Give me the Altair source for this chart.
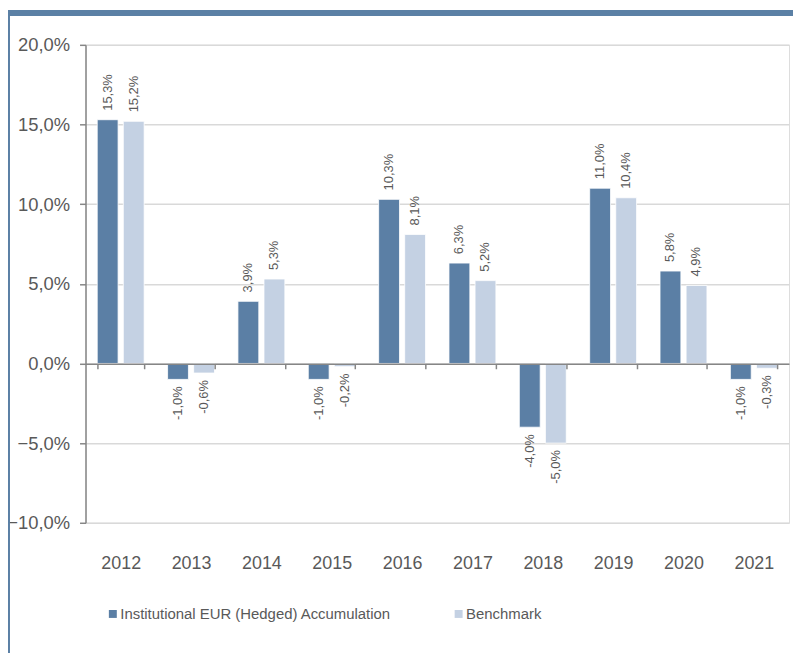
import altair as alt
import pandas as pd

years = ["2012", "2013", "2014", "2015", "2016", "2017", "2018", "2019", "2020", "2021"]
fund = [15.3, -1.0, 3.9, -1.0, 10.3, 6.3, -4.0, 11.0, 5.8, -1.0]
bench = [15.2, -0.6, 5.3, -0.2, 8.1, 5.2, -5.0, 10.4, 4.9, -0.3]
series_names = ["Institutional EUR (Hedged) Accumulation", "Benchmark"]
colors = ["#5b7fa5", "#c4d1e3"]
y_ticks = [-10, -5, 0, 5, 10, 15, 20]

rows = []
for i, yr in enumerate(years):
    rows.append({"year": yr, "series": series_names[0], "value": fund[i]})
    rows.append({"year": yr, "series": series_names[1], "value": bench[i]})
df = pd.DataFrame(rows)
df["label"] = df["value"].map(lambda v: f"{v:.1f}%".replace(".", ","))

W, H = 708, 481
PAD_L, PAD_T, TOTAL_W, TOTAL_H = 78, 35, 790, 647
GRAY = "#595959"
AXIS = "#868686"
FONT = "Liberation Sans"

x_enc = alt.X(
    "year:N", sort=years,
    scale=alt.Scale(paddingInner=0.333, paddingOuter=0.1667),
    axis=alt.Axis(
        title=None, offset=-160, tickBand="extent", labelPadding=187,
        labelFontSize=18, labelColor=GRAY, labelAngle=0,
        domainColor=AXIS, domainWidth=1.5, tickColor=AXIS, tickWidth=1.5,
        tickSize=5, zindex=1, grid=False,
    ),
)
xoff_enc = alt.XOffset("series:N", sort=series_names, scale=alt.Scale(paddingInner=0.2))
y_enc = alt.Y(
    "value:Q",
    scale=alt.Scale(domain=[-10, 20], nice=False),
    axis=alt.Axis(
        title=None, values=y_ticks,
        labelExpr="replace(format(datum.value, '.1f'), '.', ',') + '%'",
        labelFontSize=18.5, labelColor=GRAY, labelPadding=10,
        tickSize=6, tickColor=AXIS, tickWidth=1.5,
        domainColor=AXIS, domainWidth=1.5,
        gridColor="#d9d9d9", gridWidth=1.5,
    ),
)

base = alt.Chart(df).encode(x=x_enc, xOffset=xoff_enc, y=y_enc)

bars = base.mark_bar(stroke="white", strokeWidth=0.8).encode(
    color=alt.Color(
        "series:N", sort=series_names,
        scale=alt.Scale(domain=series_names, range=colors),
        legend=alt.Legend(
            title=None, orient="none", legendX=20, legendY=565,
            direction="horizontal", symbolType="square", symbolSize=64,
            symbolStrokeWidth=0, labelFontSize=15, labelColor=GRAY,
            labelOffset=0, columnPadding=60, labelLimit=400,
        ),
    )
)

pos_text = base.transform_filter("datum.value >= 0").mark_text(
    angle=270, align="left", baseline="middle", dx=9, fontSize=13, color=GRAY
).encode(text="label:N")
neg_text = base.transform_filter("datum.value < 0").mark_text(
    angle=270, align="right", baseline="middle", dx=-7, fontSize=13, color=GRAY
).encode(text="label:N")

deco = pd.DataFrame({"d": [0]})
top_band = alt.Chart(deco).mark_rect(color="#5b80a5").encode(
    x=alt.value(-PAD_L), x2=alt.value(TOTAL_W - PAD_L),
    y=alt.value(-PAD_T), y2=alt.value(-PAD_T + 6),
)
left_band = alt.Chart(deco).mark_rect(color="#5b80a5").encode(
    x=alt.value(-PAD_L), x2=alt.value(-PAD_L + 2),
    y=alt.value(-PAD_T + 6), y2=alt.value(TOTAL_H - PAD_T),
)

chart = alt.layer(top_band, left_band, bars, pos_text, neg_text).properties(
    width=W, height=H,
    autosize=alt.AutoSizeParams(type="none"),
    padding={"left": PAD_L, "top": PAD_T, "right": TOTAL_W - PAD_L - W, "bottom": TOTAL_H - PAD_T - H},
).configure_view(stroke=None).configure(font=FONT)

chart.save("out.html", embed_options={"renderer": "svg", "actions": False})
